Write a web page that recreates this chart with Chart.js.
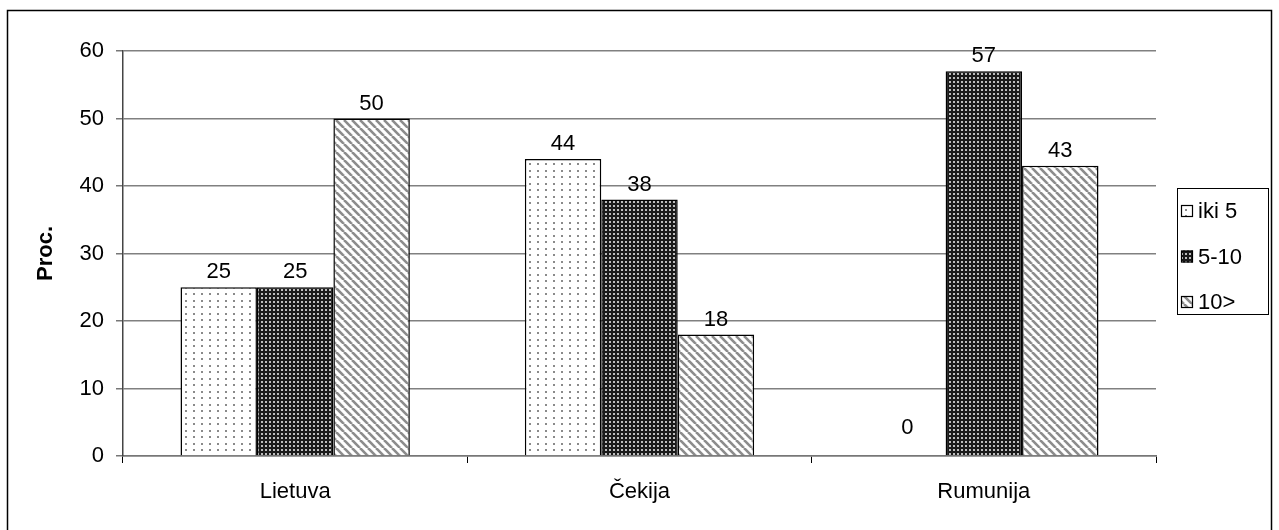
<!DOCTYPE html>
<html>
<head>
<meta charset="utf-8">
<script src="https://cdn.jsdelivr.net/npm/chart.js@4.4.1/dist/chart.umd.min.js"></script>
<style>
  html, body { margin: 0; padding: 0; background: #ffffff; }
  #wrap { width: 1279px; height: 530px; }
</style>
</head>
<body>
<div id="wrap"><canvas id="c" width="1279" height="530"></canvas></div>
<script>
const categories = ['Lietuva', 'Čekija', 'Rumunija'];
const seriesLabels = ['iki 5', '5-10', '10>'];
const valuesIki5 = [25, 44, 0];
const values5to10 = [25, 38, 57];
const values10plus = [50, 18, 43];
const yTicks = [0, 10, 20, 30, 40, 50, 60];

const FONT = "'Liberation Sans', Arial, sans-serif";
const FS = 22;

function makeTile(w, h, draw) {
  const cv = document.createElement('canvas');
  cv.width = w; cv.height = h;
  const g = cv.getContext('2d');
  draw(g, w, h);
  return cv;
}

// sparse gray dots on white
const dotTile = makeTile(8, 13, (g) => {
  g.fillStyle = '#ffffff'; g.fillRect(0, 0, 8, 13);
  g.fillStyle = '#8a8a8a';
  g.fillRect(1, 1, 2, 2);
  g.fillRect(1, 7, 2, 2);
});
// dense light dots on dark ground
const darkTile = makeTile(4, 4, (g) => {
  g.fillStyle = '#1a1a1a'; g.fillRect(0, 0, 4, 4);
  g.fillStyle = '#bdbdbd';
  g.fillRect(1, 1, 2, 2);
});
// gray diagonal hatch
const hatchTile = makeTile(8, 8, (g) => {
  g.fillStyle = '#ffffff'; g.fillRect(0, 0, 8, 8);
  g.strokeStyle = '#8c8c8c';
  g.lineWidth = 2.6;
  for (let k = -8; k <= 16; k += 8) {
    g.beginPath(); g.moveTo(k, 0); g.lineTo(k + 8, 8); g.stroke();
  }
});

const ctx = document.getElementById('c').getContext('2d');
const patterns = [
  ctx.createPattern(dotTile, 'repeat'),
  ctx.createPattern(darkTile, 'repeat'),
  ctx.createPattern(hatchTile, 'repeat')
];

const frame = {
  id: 'frame',
  beforeDraw(chart) {
    const c = chart.ctx;
    c.save();
    c.fillStyle = '#ffffff';
    c.fillRect(0, 0, chart.width, chart.height);
    c.strokeStyle = '#000000';
    c.lineWidth = 1.5;
    c.strokeRect(7.5, 10.5, 1264, 540);
    c.restore();
  }
};

const valueLabels = {
  id: 'valueLabels',
  afterDatasetsDraw(chart) {
    const c = chart.ctx;
    c.save();
    c.font = FS + 'px ' + FONT;
    c.fillStyle = '#000000';
    c.textAlign = 'center';
    c.textBaseline = 'alphabetic';
    chart.data.datasets.forEach((ds, i) => {
      chart.getDatasetMeta(i).data.forEach((bar, j) => {
        const v = ds.data[j];
        const off = v === 0 ? 22 : 9;
        c.fillText(String(v), bar.x, bar.y - off);
      });
    });
    c.restore();
  }
};

const boxLegend = {
  id: 'boxLegend',
  afterDraw(chart) {
    const c = chart.ctx;
    c.save();
    c.strokeStyle = '#000000';
    c.lineWidth = 1;
    c.strokeRect(1177.5, 188.5, 91, 126);
    c.font = FS + 'px ' + FONT;
    c.textBaseline = 'middle';
    c.textAlign = 'left';
    chart.data.datasets.forEach((ds, i) => {
      const y = 211 + i * 45.5;
      c.fillStyle = ds.backgroundColor;
      c.fillRect(1181, y - 6, 12, 12);
      c.strokeStyle = '#000000';
      c.lineWidth = 1.2;
      c.strokeRect(1181.5, y - 5.5, 11, 11);
      c.fillStyle = '#000000';
      c.fillText(ds.label, 1198, y + 1);
    });
    c.restore();
  }
};

const seriesValues = [valuesIki5, values5to10, values10plus];

new Chart(ctx, {
  type: 'bar',
  data: {
    labels: categories,
    datasets: seriesLabels.map((lab, i) => ({
      label: lab,
      data: seriesValues[i],
      backgroundColor: patterns[i],
      borderColor: '#000000',
      borderWidth: 1.5,
      categoryPercentage: 0.666,
      barPercentage: 1.0
    }))
  },
  options: {
    responsive: false,
    animation: false,
    events: [],
    layout: { padding: { top: 51, right: 123, left: 0, bottom: 0 } },
    plugins: {
      legend: { display: false },
      tooltip: { enabled: false },
      title: { display: false }
    },
    scales: {
      x: {
        afterFit(scale) { scale.height = 74; },
        grid: {
          display: true,
          offset: true,
          drawOnChartArea: false,
          drawTicks: true,
          tickLength: 7,
          color: '#000000'
        },
        border: { display: true, color: '#777777', width: 1.5 },
        ticks: {
          color: '#000000',
          font: { family: FONT, size: FS },
          padding: 16
        }
      },
      y: {
        min: 0,
        max: 60,
        afterFit(scale) { scale.width = 123; },
        afterBuildTicks(scale) { scale.ticks = yTicks.map(v => ({ value: v })); },
        grid: {
          color: '#808080',
          lineWidth: 1.5,
          drawTicks: true,
          tickLength: 7,
          tickColor: '#777777'
        },
        border: { display: true, color: '#444444', width: 1.5 },
        ticks: {
          color: '#000000',
          font: { family: FONT, size: FS },
          padding: 12
        },
        title: {
          display: true,
          text: 'Proc.',
          color: '#000000',
          font: { family: FONT, size: 22, weight: 'bold' },
          padding: { top: 33, bottom: 0 }
        }
      }
    }
  },
  plugins: [frame, valueLabels, boxLegend]
});
</script>
</body>
</html>
